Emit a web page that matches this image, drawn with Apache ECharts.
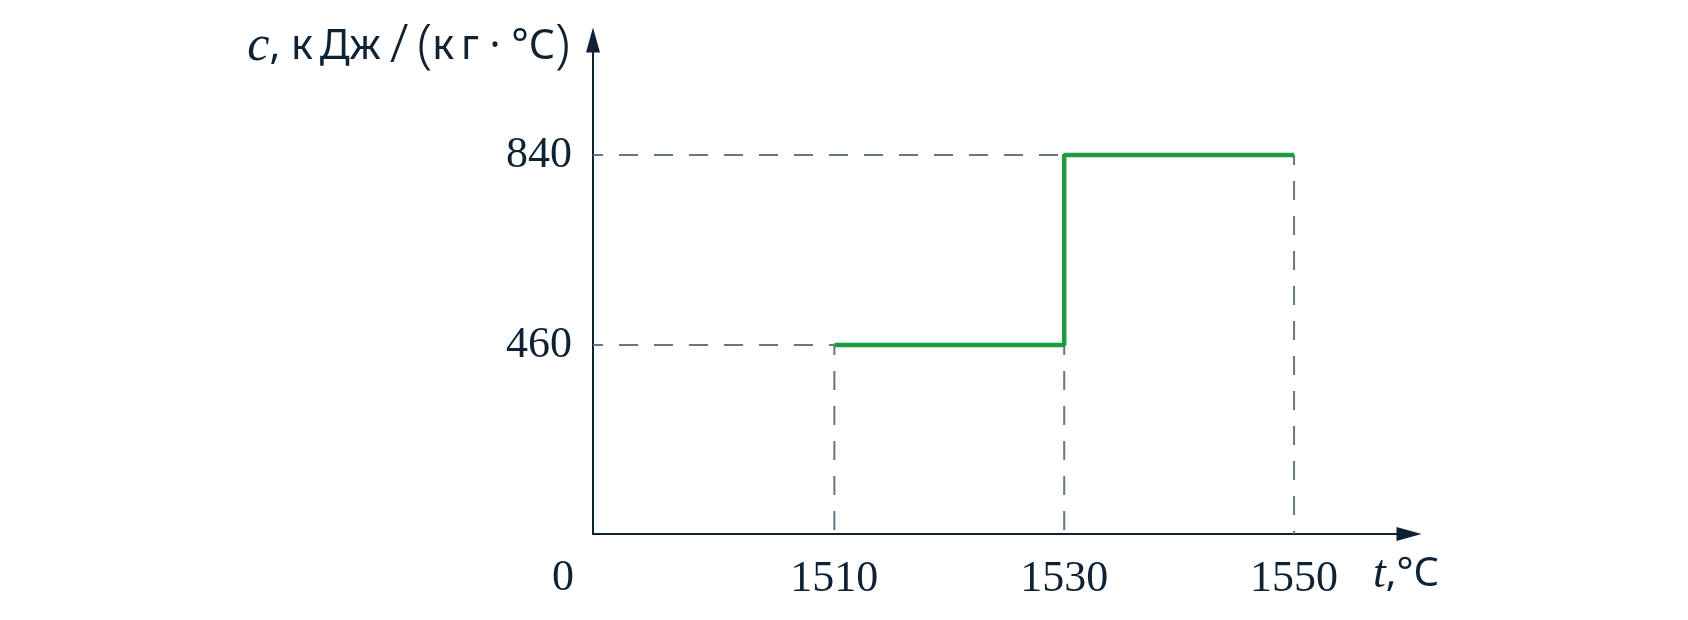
<!DOCTYPE html>
<html><head><meta charset="utf-8">
<script src="https://cdn.jsdelivr.net/npm/echarts@6/dist/echarts.min.js"></script>
<style>html,body{margin:0;padding:0;background:#fff}#c{width:1688px;height:620px}</style>
</head><body><div id="c"></div>
<script>
// ---- data ----
const xTicks = [1510, 1530, 1550];
const yTicks = [460, 840];
const originLabel = '0';
const stepX = [1510, 1530, 1550];
const stepY = [460, 840, 840];
const xRange = [1489, 1560];
const yRange = [82, 1070];

// ---- styles ----
const axisColor = '#0e2233';
const textColor = '#0e2233';
const guideColor = '#67767f';
const green = '#1e9a3f';
const serif = '"Liberation Serif", "DejaVu Serif", serif';
const sans = '"Noto Sans", "DejaVu Sans", sans-serif';

// guide segments derived from the data
const guides = [];
yTicks.forEach(y => {
  const i = stepY.indexOf(y);
  guides.push([[xRange[0], y], [stepX[i], y]]);
});
xTicks.forEach(x => {
  const i = stepX.indexOf(x);
  const yTop = i > 0 ? stepY[i - 1] : stepY[0];
  guides.push([[x, yTop], [x, yRange[0]]]);
});

const series = guides.map(seg => ({
  type: 'line', data: seg, symbol: 'none', silent: true, z: 1,
  lineStyle: { color: guideColor, width: 2, type: [19, 16], dashOffset: 9 }
}));
series.push({
  type: 'line', step: 'end', symbol: 'none', z: 3,
  data: stepX.map((x, i) => [x, stepY[i]]),
  lineStyle: { color: green, width: 4.5 }
});

const chart = echarts.init(document.getElementById('c'));
chart.setOption({
  animation: false,
  grid: { left: 593, right: 279, top: 40, bottom: 86 },
  xAxis: {
    type: 'value', min: xRange[0], max: xRange[1],
    splitLine: { show: false }, axisTick: { show: false },
    axisLine: { onZero: false, lineStyle: { color: axisColor, width: 2 }, symbol: ['none', 'triangle'], symbolSize: [14, 25] },
    axisLabel: { customValues: xTicks, formatter: v => String(v), margin: 23, color: textColor, fontFamily: serif, fontSize: 44 },
    name: '{i|t}{s|,°С}', nameLocation: 'end', nameGap: -36,
    nameTextStyle: {
      align: 'left', verticalAlign: 'middle', padding: [82, 0, 0, 0],
      rich: {
        i: { fontFamily: serif, fontStyle: 'italic', fontSize: 46, color: textColor },
        s: { fontFamily: sans, fontSize: 40, color: textColor }
      }
    }
  },
  yAxis: {
    type: 'value', min: yRange[0], max: yRange[1],
    splitLine: { show: false }, axisTick: { show: false },
    axisLine: { onZero: false, lineStyle: { color: axisColor, width: 2 }, symbol: ['none', 'triangle'], symbolSize: [14, 25] },
    axisLabel: { customValues: yTicks, formatter: v => String(v), margin: 21, padding: [8, 0, 0, 0], color: textColor, fontFamily: serif, fontSize: 44 },
    name: '{i|c}{s|, к\u2009Дж}{b|\u2009/\u2009(}{s|к\u2009г · °С}{b|)}', nameLocation: 'end', nameGap: -7,
    nameTextStyle: {
      align: 'right', verticalAlign: 'middle', padding: [0, 23, 0, 0],
      rich: {
        i: { fontFamily: serif, fontStyle: 'italic', fontSize: 50, color: textColor },
        s: { fontFamily: sans, fontSize: 41, color: textColor },
        b: { fontFamily: sans, fontSize: 54, fontWeight: 300, color: textColor }
      }
    }
  },
  graphic: [{
    type: 'text', silent: true,
    style: { text: originLabel, x: 563, y: 578, align: 'center', verticalAlign: 'middle',
      font: '44px "Liberation Serif"', fill: textColor }
  }],
  series: series
});
</script></body></html>
